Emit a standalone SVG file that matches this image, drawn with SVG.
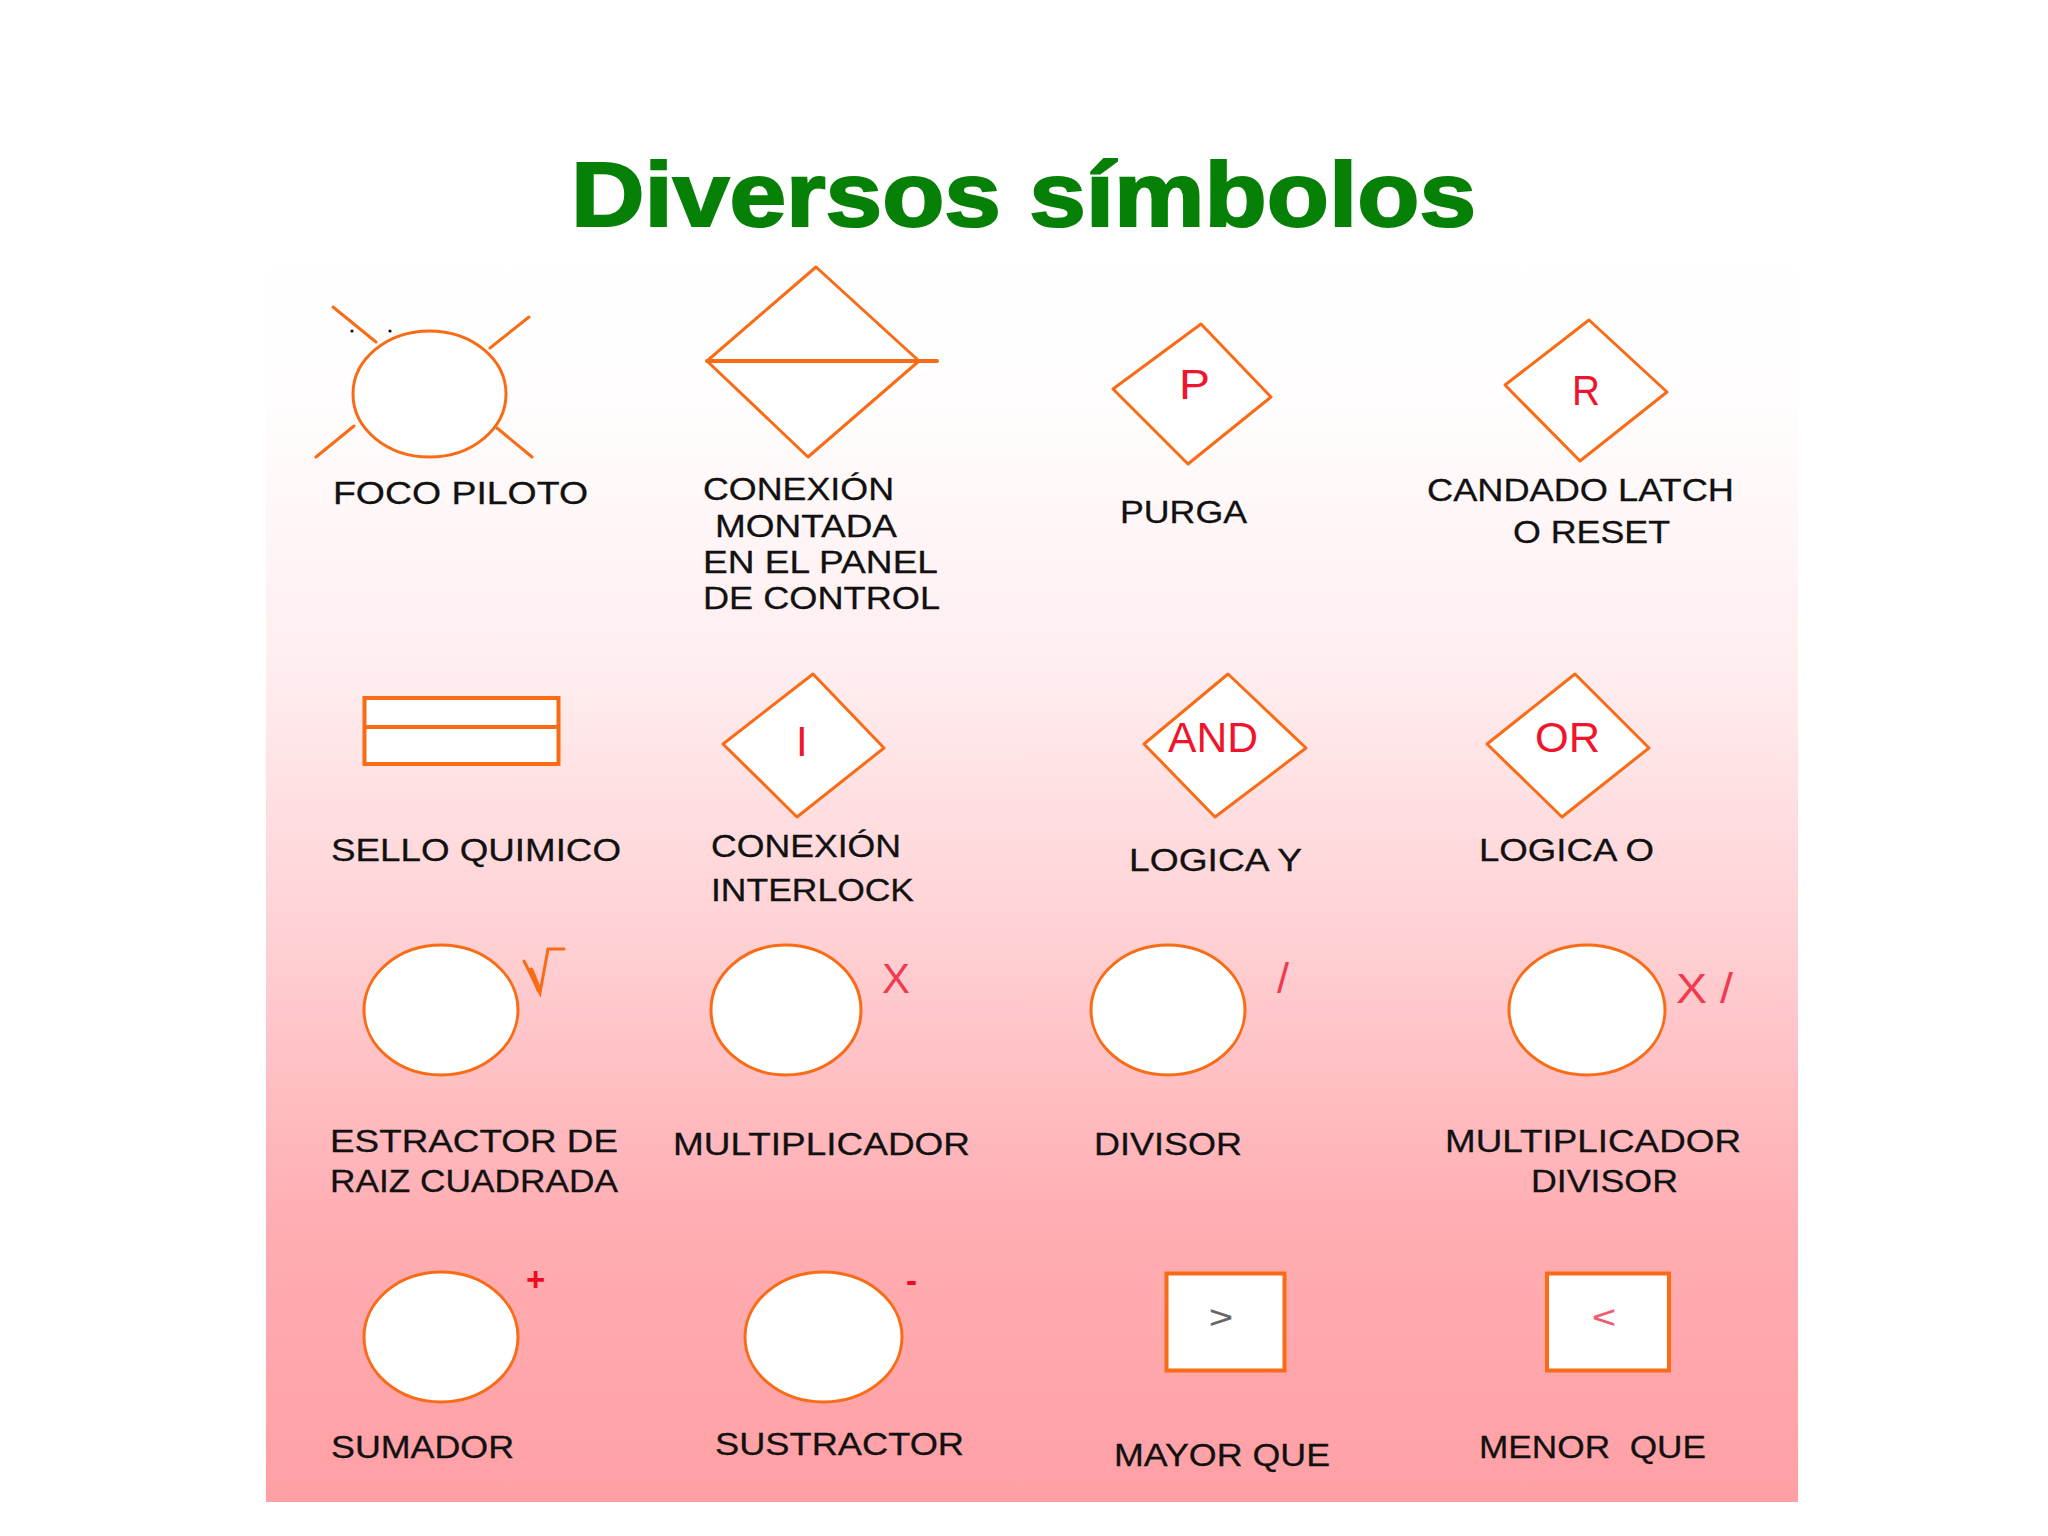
<svg xmlns="http://www.w3.org/2000/svg" width="2048" height="1536" viewBox="0 0 2048 1536">
<style>
.s{fill:#fff;stroke:#f96b14;stroke-width:3;stroke-linejoin:round}
.o{fill:none;stroke:#f96b14;stroke-width:3;stroke-linecap:round}
.l{font-family:"Liberation Sans",Arial,sans-serif;font-size:32px;fill:#111;stroke:#111;stroke-width:.3}
.r{font-family:"Liberation Sans",Arial,sans-serif;font-size:42px;fill:#f0142c}
.t{font-family:"Liberation Sans",Arial,sans-serif;font-size:90px;font-weight:700;fill:#068006;stroke:#068006;stroke-width:2.2}
</style>
<defs>
<linearGradient id="bg" x1="0" y1="0" x2="0" y2="1">
<stop offset="0" stop-color="#fff"/>
<stop offset="0.12" stop-color="#fffdfd"/>
<stop offset="0.33" stop-color="#ffeef0"/>
<stop offset="0.54" stop-color="#ffd2d5"/>
<stop offset="0.78" stop-color="#ffadb2"/>
<stop offset="1" stop-color="#ffa0a5"/>
</linearGradient>
</defs>
<rect width="2048" height="1536" fill="#fff"/>
<rect x="266" y="250" width="1532" height="1252" fill="url(#bg)"/>
<text id="title" class="t" x="571" y="226" textLength="905" lengthAdjust="spacingAndGlyphs">Diversos símbolos</text>

<g id="foco-piloto">
<ellipse class="s" cx="429.5" cy="394" rx="76.5" ry="63"/>
<path class="o" d="M333 307L376 342M529 317L490 348M316 457L354 426M532 457L497 428"/>
<circle cx="352" cy="331" r="1.6" fill="#111"/><circle cx="390" cy="331" r="1.6" fill="#111"/>
<text class="l" x="333" y="504" textLength="255" lengthAdjust="spacingAndGlyphs">FOCO PILOTO</text>
</g>
<g id="conexion-montada">
<polygon class="s" points="816,267 919,361 808,457 707,361"/>
<path class="o" d="M707 361H937" style="stroke-width:4"/>
<text class="l" x="703" y="500" textLength="191" lengthAdjust="spacingAndGlyphs">CONEXIÓN</text>
<text class="l" x="715" y="537" textLength="182" lengthAdjust="spacingAndGlyphs">MONTADA</text>
<text class="l" x="703" y="573" textLength="235" lengthAdjust="spacingAndGlyphs">EN EL PANEL</text>
<text class="l" x="703" y="609" textLength="237" lengthAdjust="spacingAndGlyphs">DE CONTROL</text>
</g>
<g id="purga">
<polygon class="s" points="1201,324 1271,397 1188,464 1113,389"/>
<text class="r" x="1179" y="399" textLength="31" lengthAdjust="spacingAndGlyphs">P</text>
<text class="l" x="1120" y="523" textLength="127" lengthAdjust="spacingAndGlyphs">PURGA</text>
</g>
<g id="candado-latch">
<polygon class="s" points="1589,320 1667,392 1580,461 1505,385"/>
<text class="r" x="1572" y="405" textLength="28" lengthAdjust="spacingAndGlyphs">R</text>
<text class="l" x="1427" y="501" textLength="307" lengthAdjust="spacingAndGlyphs">CANDADO LATCH</text>
<text class="l" x="1513" y="543" textLength="157" lengthAdjust="spacingAndGlyphs">O RESET</text>
</g>

<g id="sello-quimico">
<rect x="364.5" y="698" width="194" height="66" fill="#fff" stroke="#f96b14" stroke-width="4"/>
<path d="M364 727H559" stroke="#f96b14" stroke-width="4"/>
<text class="l" x="331" y="861" textLength="290" lengthAdjust="spacingAndGlyphs">SELLO QUIMICO</text>
</g>
<g id="conexion-interlock">
<polygon class="s" points="813,674 884,748 797,817 723,744"/>
<text class="r" x="796" y="756">I</text>
<text class="l" x="711" y="857" textLength="190" lengthAdjust="spacingAndGlyphs">CONEXIÓN</text>
<text class="l" x="711" y="901" textLength="203" lengthAdjust="spacingAndGlyphs">INTERLOCK</text>
</g>
<g id="logica-y">
<polygon class="s" points="1228,674 1306,748 1215,817 1144,744"/>
<text class="r" x="1168" y="752" textLength="90" lengthAdjust="spacingAndGlyphs">AND</text>
<text class="l" x="1129" y="871" textLength="173" lengthAdjust="spacingAndGlyphs">LOGICA Y</text>
</g>
<g id="logica-o">
<polygon class="s" points="1575,674 1649,748 1562,817 1487,744"/>
<text class="r" x="1535" y="752" textLength="65" lengthAdjust="spacingAndGlyphs">OR</text>
<text class="l" x="1479" y="861" textLength="175" lengthAdjust="spacingAndGlyphs">LOGICA O</text>
</g>

<g id="estractor-raiz">
<ellipse class="s" cx="441" cy="1010" rx="77" ry="65"/>
<path class="o" d="M524 961L540 993L548 949H564"/>
<path class="o" d="M531 970L539 990" style="stroke-width:5"/>
<text class="l" x="330" y="1152" textLength="288" lengthAdjust="spacingAndGlyphs">ESTRACTOR DE</text>
<text class="l" x="330" y="1192" textLength="288" lengthAdjust="spacingAndGlyphs">RAIZ CUADRADA</text>
</g>
<g id="multiplicador">
<ellipse class="s" cx="786" cy="1010" rx="75" ry="65"/>
<text class="r" x="882" y="993" textLength="28" lengthAdjust="spacingAndGlyphs" style="fill:#f03a50">X</text>
<text class="l" x="673" y="1155" textLength="297" lengthAdjust="spacingAndGlyphs">MULTIPLICADOR</text>
</g>
<g id="divisor">
<ellipse class="s" cx="1168" cy="1010" rx="77" ry="65"/>
<text class="r" x="1277" y="993" textLength="12" lengthAdjust="spacingAndGlyphs" style="fill:#f03a50">/</text>
<text class="l" x="1094" y="1155" textLength="148" lengthAdjust="spacingAndGlyphs">DIVISOR</text>
</g>
<g id="multiplicador-divisor">
<ellipse class="s" cx="1587" cy="1010" rx="78" ry="65"/>
<text class="r" x="1676" y="1003" textLength="57" lengthAdjust="spacingAndGlyphs" style="fill:#f03a50">X /</text>
<text class="l" x="1445" y="1152" textLength="296" lengthAdjust="spacingAndGlyphs">MULTIPLICADOR</text>
<text class="l" x="1531" y="1192" textLength="147" lengthAdjust="spacingAndGlyphs">DIVISOR</text>
</g>

<g id="sumador">
<ellipse class="s" cx="441" cy="1337" rx="77" ry="65"/>
<text class="r" x="526" y="1291" style="font-size:33px;font-weight:700;fill:#f00a1e">+</text>
<text class="l" x="331" y="1458" textLength="183" lengthAdjust="spacingAndGlyphs">SUMADOR</text>
</g>
<g id="sustractor">
<ellipse class="s" cx="823.5" cy="1337" rx="78.5" ry="65"/>
<text class="r" x="906" y="1292" style="font-size:33px;font-weight:700;fill:#f00a1e">-</text>
<text class="l" x="715" y="1455" textLength="249" lengthAdjust="spacingAndGlyphs">SUSTRACTOR</text>
</g>
<g id="mayor-que">
<rect x="1166.5" y="1273.5" width="118" height="97" fill="#fff" stroke="#f96b14" stroke-width="4"/>
<text class="l" x="1209" y="1328" style="fill:#666;stroke:#666;font-size:31px" textLength="24" lengthAdjust="spacingAndGlyphs">&gt;</text>
<text class="l" x="1114" y="1466" textLength="216" lengthAdjust="spacingAndGlyphs">MAYOR QUE</text>
</g>
<g id="menor-que">
<rect x="1547" y="1273.5" width="122" height="97" fill="#fff" stroke="#f96b14" stroke-width="4"/>
<text class="l" x="1592" y="1328" style="fill:#f25a70;stroke:#f25a70;font-size:31px" textLength="24" lengthAdjust="spacingAndGlyphs">&lt;</text>
<text class="l" x="1479" y="1458" textLength="227" lengthAdjust="spacingAndGlyphs" xml:space="preserve">MENOR  QUE</text>
</g>
</svg>
